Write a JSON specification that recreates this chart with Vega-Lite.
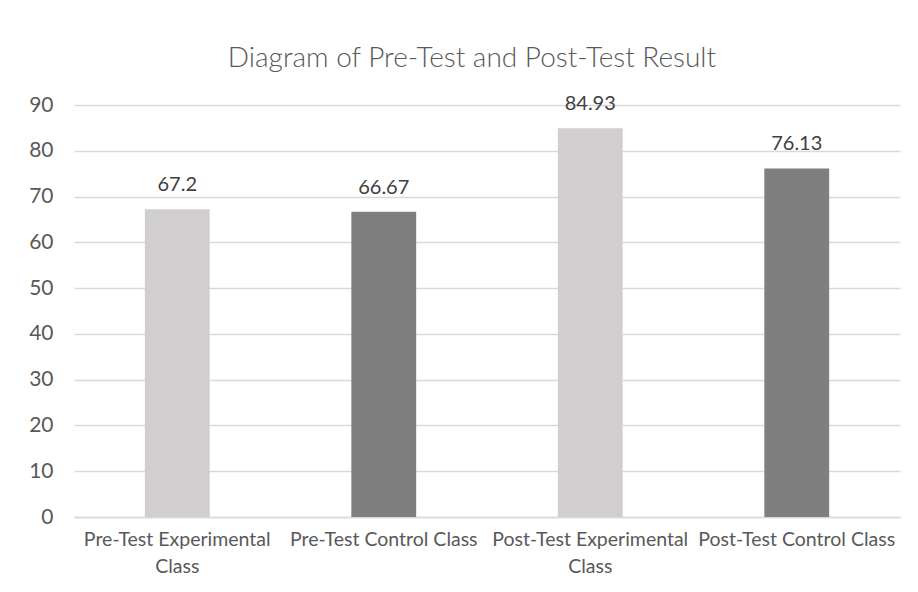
{
  "$schema": "https://vega.github.io/schema/vega-lite/v6.json",
  "autosize": {"type": "none"},
  "width": 826,
  "height": 412,
  "padding": {"left": 74, "top": 105, "right": 18, "bottom": 75},
  "background": "white",
  "title": {
    "text": "Diagram of Pre-Test and Post-Test Result",
    "font": "Lato",
    "fontSize": 28,
    "fontWeight": 300,
    "color": "#595959",
    "anchor": "middle",
    "dx": -15,
    "offset": 21
  },
  "data": {
    "values": [
      {"group": "Pre-Test Experimental Class", "score": 67.2, "type": "Experimental"},
      {"group": "Pre-Test Control Class", "score": 66.67, "type": "Control"},
      {"group": "Post-Test Experimental Class", "score": 84.93, "type": "Experimental"},
      {"group": "Post-Test Control Class", "score": 76.13, "type": "Control"}
    ]
  },
  "encoding": {
    "x": {
      "field": "group",
      "type": "nominal",
      "sort": null,
      "title": null,
      "scale": {"paddingInner": 0.686, "paddingOuter": 0.343},
      "axis": {
        "labelAngle": 0,
        "labelFont": "Lato",
        "labelFontSize": 19.5,
        "labelColor": "#595959",
        "labelPadding": 13,
        "labelLineHeight": 27,
        "labelLimit": 300,
        "ticks": false,
        "domainColor": "#D9D9D9",
        "domainWidth": 1.5,
        "labelExpr": "datum.value == 'Pre-Test Experimental Class' ? ['Pre-Test Experimental', 'Class'] : datum.value == 'Post-Test Experimental Class' ? ['Post-Test Experimental', 'Class'] : datum.value"
      }
    },
    "y": {
      "field": "score",
      "type": "quantitative",
      "title": null,
      "scale": {"domain": [0, 90]},
      "axis": {
        "values": [0, 10, 20, 30, 40, 50, 60, 70, 80, 90],
        "labelFont": "Lato",
        "labelFontSize": 21,
        "labelColor": "#595959",
        "labelPadding": 21,
        "ticks": false,
        "domain": false,
        "gridColor": "#D9D9D9",
        "gridWidth": 1.5
      }
    }
  },
  "layer": [
    {
      "mark": {"type": "bar"},
      "encoding": {
        "color": {
          "field": "type",
          "type": "nominal",
          "scale": {"domain": ["Experimental", "Control"], "range": ["#D0CECE", "#7F7F7F"]},
          "legend": null
        }
      }
    },
    {
      "mark": {"type": "text", "baseline": "bottom", "dy": -14, "font": "Lato", "fontSize": 20, "color": "#404040"},
      "encoding": {"text": {"field": "score", "type": "quantitative"}}
    }
  ],
  "config": {"view": {"stroke": null}}
}
